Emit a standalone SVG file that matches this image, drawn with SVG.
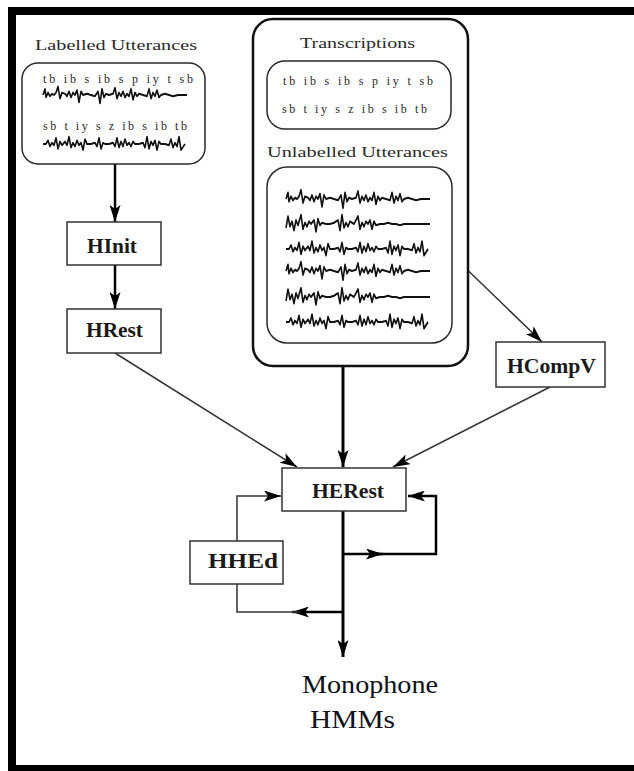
<svg xmlns="http://www.w3.org/2000/svg" xmlns:xlink="http://www.w3.org/1999/xlink" width="634" height="771" viewBox="0 0 634 771">
<style>
.frame{fill:#000}
.box{fill:#fff;stroke:#2a2a2a;stroke-width:1.5}
.outer{fill:#fff;stroke:#111;stroke-width:2.5}
.node{fill:#fff;stroke:#333;stroke-width:1.5}
.nl{font-family:"Liberation Serif",serif;font-weight:bold;font-size:20px;fill:#1a1a1a}
.hd{font-family:"Liberation Serif",serif;font-size:15px;fill:#2a2a2a}
.ph{font-family:"Liberation Serif",serif;font-size:12px;fill:#2a2a2a}
.big{font-family:"Liberation Serif",serif;font-size:26px;fill:#10101a}
.wave{fill:none;stroke:#111;stroke-width:1.6;stroke-linejoin:round}
.thick{fill:none;stroke:#000;stroke-width:3}
.thin{fill:none;stroke:#333;stroke-width:1.5}
</style>
<defs>
<marker id="ah" markerUnits="userSpaceOnUse" markerWidth="17" markerHeight="11" refX="17" refY="5.5" orient="auto" viewBox="0 0 17 11">
<path d="M0,0 L17,5.5 L0,11 L4,5.5 z" fill="#000"/>
</marker>
<path id="wA" class="wave" d="M0,0 L2,-5 L3,2 L5,-2 L7,1 L9,-1 L11,0 L13,-2 L15,-7 L17,3 L19,-2 L22,-1 L24,1 L26,-3 L28,2 L30,-2 L32,0 L34,-4 L36,6 L38,-3 L40,0 L44,-1 L48,0 L52,1 L55,-3 L57,7 L59,-5 L61,2 L63,-1 L66,0 L70,-1 L72,-6 L74,3 L76,-2 L78,1 L80,-3 L82,2 L84,-1 L86,1 L88,-5 L90,4 L92,-2 L94,1 L96,-1 L100,0 L104,1 L106,-5 L108,3 L110,-2 L112,1 L114,-4 L116,2 L118,0 L122,-1 L126,0 L130,1 L135,0 L144,0"/>
<path id="wB" class="wave" d="M0,0 L3,0 L5,-3 L7,2 L9,-1 L11,1 L13,-5 L15,4 L17,-2 L19,1 L22,-2 L24,1 L26,-6 L28,3 L30,-1 L32,2 L34,-3 L36,1 L38,-1 L40,5 L42,-4 L44,0 L48,0 L52,-1 L54,2 L56,-5 L58,4 L60,-1 L62,0 L66,0 L70,-1 L72,2 L74,-5 L76,3 L78,-2 L80,2 L82,-4 L84,1 L86,-1 L88,2 L90,-2 L92,0 L96,0 L100,-1 L102,3 L104,-6 L106,4 L108,-2 L110,1 L112,-3 L114,5 L116,-2 L118,0 L122,0 L126,1 L128,-4 L130,3 L132,-1 L134,2 L136,-6 L138,5 L142,0"/>
<path id="wC" class="wave" d="M0,3 L2,-6 L4,2 L6,-2 L8,5 L10,-3 L12,1 L15,-7 L17,4 L19,-1 L21,2 L23,-2 L25,0 L28,-3 L30,6 L32,-4 L34,1 L36,-1 L40,0 L44,0 L48,-1 L52,-3 L54,5 L56,-7 L58,3 L60,-1 L62,2 L64,-2 L68,0 L72,-6 L74,4 L76,-1 L78,2 L80,-2 L82,0 L84,-3 L86,4 L88,-2 L90,1 L94,0 L98,0 L102,-1 L106,0 L110,0 L114,1 L118,0 L124,0 L130,0 L144,0"/>
</defs>
<rect width="634" height="771" fill="#fff"/>
<g id="frame">
<rect class="frame" x="8" y="7" width="626" height="8"/>
<rect class="frame" x="8" y="7" width="8" height="764"/>
<rect class="frame" x="8" y="765" width="626" height="6"/>
</g>
<g id="connectors">
<path class="thick" d="M115,164 L115,222" marker-end="url(#ah)" style="stroke-width:2.5"/>
<path class="thick" d="M115,265 L115,309" marker-end="url(#ah)" style="stroke-width:2.5"/>
<path class="thin" d="M115,353 L297,467" marker-end="url(#ah)"/>
<path class="thin" d="M452,255 L542,342" marker-end="url(#ah)"/>
<path class="thin" d="M550,387 L393,467" marker-end="url(#ah)"/>
<path class="thick" d="M343,366 L343,467" marker-end="url(#ah)"/>
<path class="thick" d="M343,511 L343,657" marker-end="url(#ah)"/>
<path class="thick" d="M343,554 L383,554" marker-end="url(#ah)" style="stroke-width:2.5"/>
<path class="thick" d="M375,554 L436,554 L436,496 L408,496" marker-end="url(#ah)" style="stroke-width:2.5"/>
<path class="thick" d="M343,612 L292,612" marker-end="url(#ah)" style="stroke-width:2.5"/>
<path class="thin" d="M300,612 L237,612 L237,584"/>
<path class="thin" d="M237,541 L237,496 L281,496" marker-end="url(#ah)"/>
</g>
<g id="labelled-utterances">
<text class="hd" x="35" y="50" textLength="162" lengthAdjust="spacingAndGlyphs">Labelled Utterances</text>
<rect class="box" x="22" y="63" width="183" height="101" rx="16"/>
<text class="ph" x="43" y="83" textLength="150" lengthAdjust="spacing">tb  ib  s  ib  s  p  iy  t  sb</text>
<use xlink:href="#wA" transform="translate(43,95) scale(1,1.2)"/>
<text class="ph" x="43" y="130" textLength="144" lengthAdjust="spacing">sb  t  iy  s  z  ib  s  ib  tb</text>
<use xlink:href="#wB" transform="translate(43,144) scale(1,1.2)"/>
</g>
<g id="transcriptions-group">
<rect class="outer" x="253" y="19" width="215" height="347" rx="20"/>
<text class="hd" x="300" y="48" textLength="115" lengthAdjust="spacingAndGlyphs">Transcriptions</text>
<rect class="box" x="267" y="61" width="184" height="68" rx="18"/>
<text class="ph" x="283" y="85" textLength="150" lengthAdjust="spacing">tb  ib  s  ib  s  p  iy  t  sb</text>
<text class="ph" x="282" y="113" textLength="145" lengthAdjust="spacing">sb  t  iy  s  z  ib  s  ib  tb</text>
<text class="hd" x="267" y="157" textLength="181" lengthAdjust="spacingAndGlyphs">Unlabelled Utterances</text>
<rect class="box" x="267" y="167" width="185" height="176" rx="20"/>
<use xlink:href="#wA" transform="translate(286,199) scale(1,1.3)"/>
<use xlink:href="#wC" transform="translate(286,224) scale(1,1.3)"/>
<use xlink:href="#wB" transform="translate(286,249) scale(1,1.3)"/>
<use xlink:href="#wA" transform="translate(286,271) scale(1,1.3)"/>
<use xlink:href="#wC" transform="translate(286,297) scale(1,1.3)"/>
<use xlink:href="#wB" transform="translate(286,322) scale(1,1.3)"/>
</g>
<g id="HInit">
<rect class="node" x="67" y="222" width="94" height="43"/>
<text class="nl" x="87" y="253" textLength="50" lengthAdjust="spacingAndGlyphs">HInit</text>
</g>
<g id="HRest">
<rect class="node" x="67" y="309" width="94" height="44"/>
<text class="nl" x="86" y="337" textLength="57" lengthAdjust="spacingAndGlyphs">HRest</text>
</g>
<g id="HCompV">
<rect class="node" x="496" y="342" width="109" height="45"/>
<text class="nl" x="507" y="373" textLength="89" lengthAdjust="spacingAndGlyphs">HCompV</text>
</g>
<g id="HERest">
<rect class="node" x="282" y="468" width="124" height="43"/>
<text class="nl" x="312" y="498" textLength="72" lengthAdjust="spacingAndGlyphs">HERest</text>
</g>
<g id="HHEd">
<rect class="node" x="190" y="541" width="93" height="43"/>
<text class="nl" x="208" y="568" textLength="70" lengthAdjust="spacingAndGlyphs">HHEd</text>
</g>
<g id="output">
<text class="big" x="302" y="693" textLength="136" lengthAdjust="spacingAndGlyphs">Monophone</text>
<text class="big" x="310" y="728" textLength="85" lengthAdjust="spacingAndGlyphs">HMMs</text>
</g>
</svg>
